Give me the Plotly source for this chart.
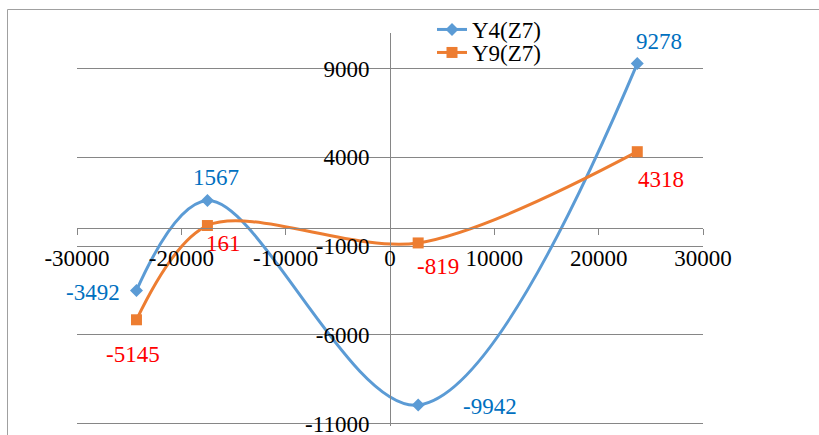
import plotly.graph_objects as go

# Series data
x_vals = [-24300, -17500, 2700, 23700]
y4_vals = [-3492, 1567, -9942, 9278]
y9_vals = [-5145, 161, -819, 4318]
y4_name = "Y4(Z7)"
y9_name = "Y9(Z7)"

# Axis ticks
x_ticks = [-30000, -20000, -10000, 0, 10000, 20000, 30000]
x_ticktext = ["-30000", "-20000", "-10000", "0", "10000", "20000", "30000"]
y_ticks = [-11000, -6000, -1000, 4000, 9000]
y_ticktext = ["-11000", "-6000", "-1000", "4000", "9000"]

FONT = "Liberation Serif"
FS = 23
BLUE = "#5B9BD5"
ORANGE = "#ED7D31"
AXIS = "#868686"

X_RANGE = [-30000, 30000]
Y_RANGE = [-11125, 11000]  # a little room below the bottom gridline

fig = go.Figure()
fig.add_trace(go.Scatter(
    x=x_vals, y=y4_vals, name=y4_name, mode="lines+markers", legend="legend",
    line=dict(color=BLUE, width=3, shape="spline", smoothing=1),
    marker=dict(symbol="diamond", size=10, color=BLUE),
))
fig.add_trace(go.Scatter(
    x=x_vals, y=y9_vals, name=y9_name, mode="lines+markers", legend="legend2",
    line=dict(color=ORANGE, width=3, shape="spline", smoothing=0.9),
    marker=dict(symbol="square", size=11, color=ORANGE),
))

# value labels: (pixel offsets, anchor)
y4_label_style = [(-14, -2, "right"), (9, 23, "center"), (43, -2, "left"), (22, 22, "center")]
y9_label_style = [(-3, -35, "center"), (16, -18, "center"), (20, -24, "center"), (24, -28, "center")]

annotations = []
for xv, yv, (dx, dy, anc) in zip(x_vals, y4_vals, y4_label_style):
    annotations.append(dict(x=xv, y=yv, text=str(yv), showarrow=False,
                            xshift=dx, yshift=dy, xanchor=anc, yanchor="middle",
                            font=dict(family=FONT, size=FS, color="#0070C0")))
for xv, yv, (dx, dy, anc) in zip(x_vals, y9_vals, y9_label_style):
    annotations.append(dict(x=xv, y=yv, text=str(yv), showarrow=False,
                            xshift=dx, yshift=dy, xanchor=anc, yanchor="middle",
                            font=dict(family=FONT, size=FS, color="#FF0000")))

W, H = 819, 435
ml, mr, mt, mb = 77, 116, 33, 9
pw, ph = W - ml - mr, H - mt - mb

def px_x(p):
    return (p - ml) / pw

def px_y(p):
    return (H - mb - p) / ph

# axes cross at the origin
x_axis_pos = (0 - Y_RANGE[0]) / (Y_RANGE[1] - Y_RANGE[0])
y_axis_pos = (0 - X_RANGE[0]) / (X_RANGE[1] - X_RANGE[0])

legend_common = dict(xanchor="left", yanchor="top", bgcolor="rgba(0,0,0,0)",
                     font=dict(family=FONT, size=FS))

fig.update_layout(
    width=W, height=H,
    margin=dict(l=ml, r=mr, t=mt, b=mb, autoexpand=False),
    paper_bgcolor="white", plot_bgcolor="white",
    font=dict(family=FONT, size=FS, color="black"),
    showlegend=True,
    legend=dict(x=px_x(432), y=px_y(8), **legend_common),
    legend2=dict(x=px_x(432), y=px_y(31), **legend_common),
    xaxis=dict(range=X_RANGE, anchor="free", position=x_axis_pos,
               showline=True, linecolor=AXIS, linewidth=1,
               ticks="outside", ticklen=6, tickcolor=AXIS,
               tickvals=x_ticks, ticktext=x_ticktext,
               showgrid=False, zeroline=False, ticklabelstandoff=3),
    yaxis=dict(range=Y_RANGE, anchor="free", position=y_axis_pos,
               showline=True, linecolor=AXIS, linewidth=1,
               ticks="outside", ticklen=6, tickcolor=AXIS,
               tickvals=y_ticks, ticktext=y_ticktext,
               showgrid=True, gridcolor=AXIS, gridwidth=1,
               zeroline=False, ticklabelstandoff=10,
               ticklabeloverflow="allow"),
    annotations=annotations,
    shapes=[dict(type="rect", xref="paper", yref="paper",
                 x0=px_x(7.5), x1=px_x(830), y0=px_y(445), y1=px_y(9.5),
                 line=dict(color="#A0A0A0", width=1), layer="below")],
)

fig.write_html("out.html")
